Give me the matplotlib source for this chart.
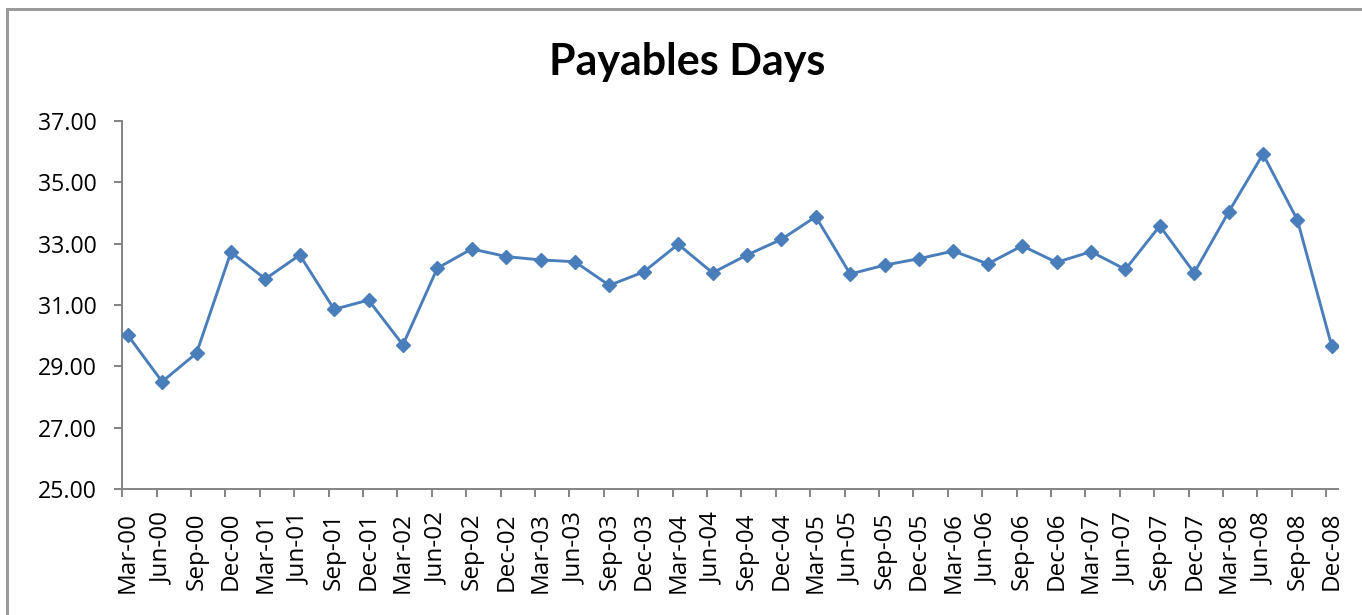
import matplotlib
matplotlib.use('Agg')
import matplotlib.pyplot as plt
from matplotlib.patches import Rectangle
import numpy as np

# quarter labels
quarters = ['Mar-00', 'Jun-00', 'Sep-00', 'Dec-00', 'Mar-01', 'Jun-01', 'Sep-01', 'Dec-01',
            'Mar-02', 'Jun-02', 'Sep-02', 'Dec-02', 'Mar-03', 'Jun-03', 'Sep-03', 'Dec-03',
            'Mar-04', 'Jun-04', 'Sep-04', 'Dec-04', 'Mar-05', 'Jun-05', 'Sep-05', 'Dec-05',
            'Mar-06', 'Jun-06', 'Sep-06', 'Dec-06', 'Mar-07', 'Jun-07', 'Sep-07', 'Dec-07',
            'Mar-08', 'Jun-08', 'Sep-08', 'Dec-08']
# payables days
payables_days = [30.02, 28.50, 29.43, 32.72, 31.85, 32.63, 30.86, 31.16,
                 29.70, 32.20, 32.83, 32.58, 32.47, 32.41, 31.64, 32.08,
                 32.98, 32.05, 32.63, 33.14, 33.88, 32.01, 32.30, 32.51,
                 32.76, 32.34, 32.93, 32.39, 32.74, 32.16, 33.58, 32.05,
                 34.03, 35.92, 33.77, 29.65]
y_ticks = [25, 27, 29, 31, 33, 35, 37]

W, H = 1362, 615
fig = plt.figure(figsize=(W / 100, H / 100), dpi=100)
plt.rcParams['font.family'] = ['Open Sans', 'DejaVu Sans']
PX = 72 / 100  # 1 pixel in points

# 外框
fig.patches.append(Rectangle((7 / W, -0.1), 1.2, (H - 8.5) / H + 0.1, transform=fig.transFigure,
                             fill=False, edgecolor='#9a9a9a', linewidth=3 * PX))

ax = fig.add_axes([122 / W, (H - 489) / H, (1338 - 122) / W, (489 - 121) / H])
x = np.arange(len(quarters))
ax.plot(x, payables_days, color='#4a7ebb', linewidth=2.9 * PX, marker='D', markersize=10.5 * PX,
        markeredgecolor='#4a7ebb', markerfacecolor='#4a7ebb', zorder=3)

ax.set_xlim(-0.166, len(quarters) - 1 + 0.18)
ax.set_ylim(25, 37)
ax.set_yticks(y_ticks)
ax.set_yticklabels([f'{v:.2f}' for v in y_ticks], fontsize=16.7)

# tick marks slightly left of the points, labels centred on points
ax.set_xticks(x - 0.16)
ax.set_xticklabels([])
ax.set_xticks(x, minor=True)
ax.set_xticklabels(quarters, minor=True, rotation=90, fontsize=17.5)
ax.tick_params(axis='x', which='major', length=8 * PX, width=2 * PX, color='#868686', direction='out')
ax.tick_params(axis='x', which='minor', length=0, pad=23 * PX)
ax.tick_params(axis='y', length=8 * PX, width=2 * PX, color='#868686', direction='out', pad=17 * PX)

for s in ['top', 'right']:
    ax.spines[s].set_visible(False)
for s in ['left', 'bottom']:
    ax.spines[s].set_color('#868686')
    ax.spines[s].set_linewidth(2 * PX)

fig.text(687 / W, 1 - 62 / H, 'Payables Days', fontsize=31, fontweight='bold',
         family=['Lato', 'DejaVu Sans'], ha='center', va='center')

fig.savefig('out.png', dpi=100)
